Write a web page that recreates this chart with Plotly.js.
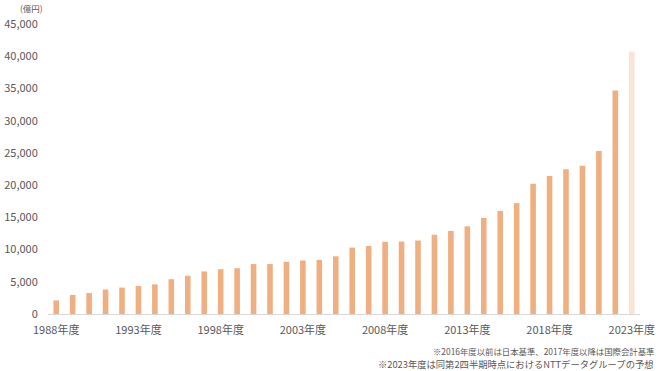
<!DOCTYPE html>
<html><head><meta charset="utf-8">
<script src="https://cdn.plot.ly/plotly-3.0.1.min.js"></script>
<style>html,body{margin:0;padding:0;background:#fff}#c{width:660px;height:371px}</style>
</head><body><div id="c"></div>
<script>
const years = ['1988','1989','1990','1991','1992','1993','1994','1995','1996','1997','1998','1999','2000','2001','2002','2003','2004','2005','2006','2007','2008','2009','2010','2011','2012','2013','2014','2015','2016','2017','2018','2019','2020','2021','2022','2023'];
const revenue = [2100,2950,3250,3800,4100,4350,4600,5400,5950,6600,6950,7100,7750,7750,8100,8300,8400,8950,10300,10550,11200,11250,11400,12300,12900,13600,14900,16000,17200,20200,21400,22450,23000,25300,34700,40700];
const tickYears = ['1988','1993','1998','2003','2008','2013','2018','2023'];
const tickText = tickYears.map(y => y + '年度');
const yTicks = [0,5000,10000,15000,20000,25000,30000,35000,40000,45000];
const barColor = '#EFAF80';
const forecastColor = '#FBE4D5';
const colors = years.map((y,i) => i === years.length-1 ? forecastColor : barColor);
const notes = ['※2016年度以前は日本基準、2017年度以降は国際会計基準','※2023年度は同第2四半期時点におけるNTTデータグループの予想'];

const font = "'Noto Sans CJK JP', 'Noto Sans', sans-serif";
Plotly.newPlot('c', [{
  type: 'bar', x: years, y: revenue, marker: {color: colors}, hoverinfo: 'none'
}], {
  width: 660, height: 371,
  margin: {l: 48, r: 20, t: 24, b: 57},
  paper_bgcolor: '#fff', plot_bgcolor: '#fff',
  bargap: 0.66,
  showlegend: false,
  font: {family: font, color: '#595959', size: 11},
  xaxis: {type: 'category', range: [-0.5, 35.5], tickmode: 'array', tickvals: tickYears, ticktext: tickText,
    showgrid: false, showline: true, linecolor: '#D9D9D9', linewidth: 1, ticks: 'outside', ticklen: 6, tickcolor: 'rgba(0,0,0,0)',
    tickfont: {size: 11, color: '#595959'}, fixedrange: true},
  yaxis: {range: [0, 45000], tickmode: 'array', tickvals: yTicks, tickformat: ',d', showgrid: false, zeroline: false,
    showline: false, ticks: 'outside', ticklen: 7, tickcolor: 'rgba(0,0,0,0)', tickfont: {size: 11, color: '#595959'}, fixedrange: true},
  annotations: [
    {text: '(億円)', xref: 'paper', yref: 'paper', x: -0.005, y: 1.0, yshift: 16, xanchor: 'right', yanchor: 'middle', showarrow: false, font: {size: 8.5, color: '#595959'}},
    {text: notes[0], xref: 'paper', yref: 'paper', x: 1.027, y: 0, yshift: -37, xanchor: 'right', yanchor: 'middle', showarrow: false, font: {size: 8.4, color: '#595959'}},
    {text: notes[1], xref: 'paper', yref: 'paper', x: 1.027, y: 0, yshift: -50, xanchor: 'right', yanchor: 'middle', showarrow: false, font: {size: 9.3, color: '#595959'}}
  ]
}, {staticPlot: true});
</script></body></html>
